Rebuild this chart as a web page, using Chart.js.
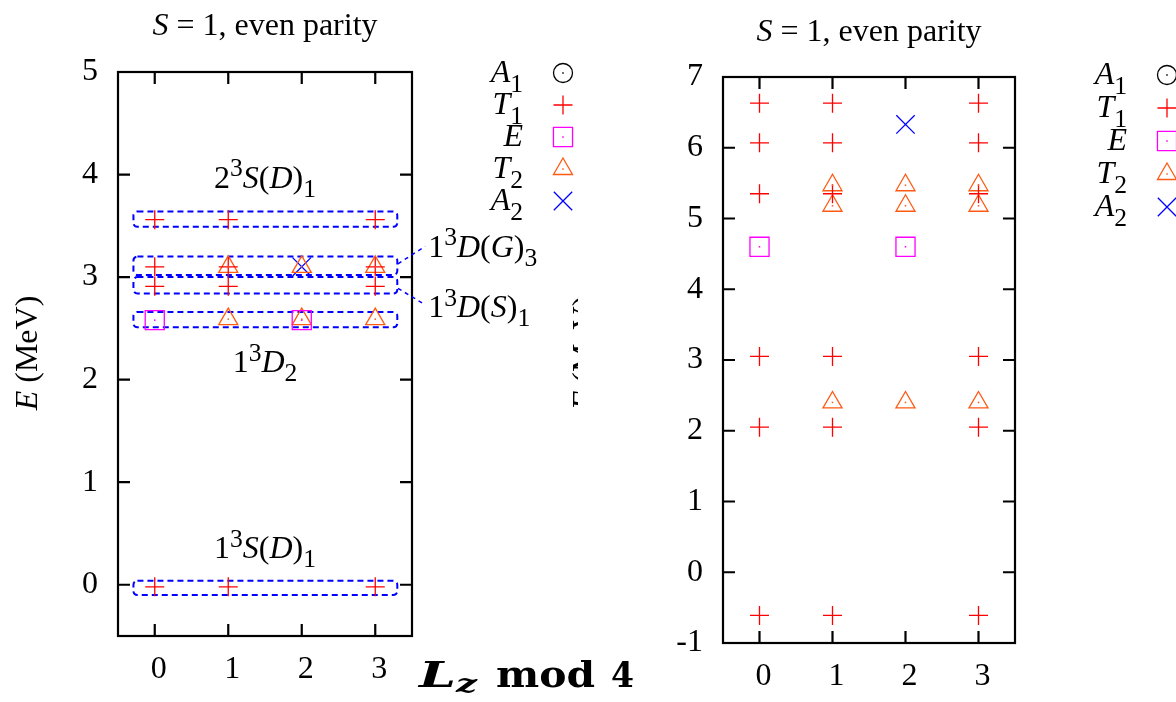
<!DOCTYPE html>
<html>
<head>
<meta charset="utf-8">
<script src="https://cdn.jsdelivr.net/npm/chart.js@4.4.0/dist/chart.umd.min.js"></script>
<style>
  html, body { margin: 0; padding: 0; background: #fff; overflow: hidden; width: 1176px; height: 702px; }
  canvas { position: absolute; top: 0; }
  #leftChart { left: 0; z-index: 2; }
  #rightChart { left: 560px; z-index: 1; }
</style>
</head>
<body>
<canvas id="rightChart" width="640" height="702"></canvas>
<canvas id="leftChart" width="660" height="702"></canvas>
<script>
// x: Lz mod 4, y: energy (MeV)
const lzTicks = [0, 1, 2, 3];
const leftEnergyTicks = [0, 1, 2, 3, 4, 5];
const rightEnergyTicks = [-1, 0, 1, 2, 3, 4, 5, 6, 7];

// left panel levels, [Lz mod 4, E]
const leftA1 = [];
const leftT1 = [[0, -0.02], [1, -0.02], [3, -0.02], [0, 2.91], [1, 2.91], [3, 2.91],
                [0, 3.10], [1, 3.10], [3, 3.10], [0, 3.56], [1, 3.56], [3, 3.56]];
const leftE = [[0, 2.58], [2, 2.58]];
const leftT2 = [[1, 2.59], [2, 2.59], [3, 2.59], [1, 3.10], [2, 3.10], [3, 3.10]];
const leftA2 = [[2, 3.10]];

// right panel levels
const rightA1 = [];
const rightT1 = [[0, -0.61], [1, -0.61], [3, -0.61], [0, 2.05], [1, 2.05], [3, 2.05],
                 [0, 3.05], [1, 3.05], [3, 3.05], [0, 5.35], [1, 5.35], [3, 5.35],
                 [0, 6.07], [1, 6.07], [3, 6.07], [0, 6.63], [1, 6.63], [3, 6.63]];
const rightE = [[0, 4.60], [2, 4.60]];
const rightT2 = [[1, 2.40], [2, 2.40], [3, 2.40], [1, 5.18], [2, 5.18], [3, 5.18],
                 [1, 5.47], [2, 5.47], [3, 5.47]];
const rightA2 = [[2, 6.33]];

const FONT = '"Liberation Serif", "Times New Roman", serif';
const SIZE = 32;

const repStyles = [
  { label: [['A', 'i'], ['1', '_']], pointStyle: 'circle',   radius: 9.5,  color: '#000000', dot: true },
  { label: [['T', 'i'], ['1', '_']], pointStyle: 'cross',    radius: 9.5,  color: '#ff0000', dot: false },
  { label: [['E', 'i']],             pointStyle: 'rect',     radius: 13.5, color: '#ff00ff', dot: true },
  { label: [['T', 'i'], ['2', '_']], pointStyle: 'triangle', radius: 11,   color: '#ff5a14', dot: true },
  { label: [['A', 'i'], ['2', '_']], pointStyle: 'crossRot', radius: 13,   color: '#0000ff', dot: false }
];

// multiplet boxes and their labels on the left panel (data coordinates)
const boxes = [
  [-0.29, 3.30, 3.49, 3.64],
  [-0.29, 3.30, 3.02, 3.20],
  [-0.29, 3.30, 2.84, 3.00],
  [-0.29, 3.30, 2.51, 2.66],
  [-0.29, 3.30, -0.10, 0.04]
];
const connectors = [
  [3.31, 3.13, 3.68, 3.30],
  [3.31, 2.89, 3.68, 2.73]
];
const levelLabels = [
  { x: 1.5, y: 3.87, align: 'center', parts: [['2', 'r'], ['3', '^'], ['S', 'i'], ['(', 'r'], ['D', 'i'], [')', 'r'], ['1', '_']] },
  { x: 1.5, y: 2.07, align: 'center', parts: [['1', 'r'], ['3', '^'], ['D', 'i'], ['2', '_']] },
  { x: 1.5, y: 0.26, align: 'center', parts: [['1', 'r'], ['3', '^'], ['S', 'i'], ['(', 'r'], ['D', 'i'], [')', 'r'], ['1', '_']] },
  { x: 3.72, y: 3.20, align: 'left', parts: [['1', 'r'], ['3', '^'], ['D', 'i'], ['(', 'r'], ['G', 'i'], [')', 'r'], ['3', '_']] },
  { x: 3.72, y: 2.61, align: 'left', parts: [['1', 'r'], ['3', '^'], ['D', 'i'], ['(', 'r'], ['S', 'i'], [')', 'r'], ['1', '_']] }
];

function partFont(kind, size) {
  const s = (kind === '^' || kind === '_') ? size * 0.8 : size;
  return (kind === 'i' ? 'italic ' : '') + s + 'px ' + FONT;
}

// text with italics, superscripts and subscripts, gnuplot style
function drawRich(ctx, parts, x, y, align, size, subDrop) {
  ctx.save();
  ctx.fillStyle = '#000';
  ctx.textBaseline = 'alphabetic';
  ctx.textAlign = 'left';
  let total = 0;
  const widths = parts.map(([t, k]) => {
    ctx.font = partFont(k, size);
    const w = ctx.measureText(t).width;
    total += w;
    return w;
  });
  let cx = align === 'center' ? x - total / 2 : align === 'right' ? x - total : x;
  parts.forEach(([t, k], i) => {
    ctx.font = partFont(k, size);
    const dy = k === '^' ? -0.36 * size : k === '_' ? (subDrop || 0.28) * size : 0;
    ctx.fillText(t, cx, y + dy);
    cx += widths[i];
  });
  ctx.restore();
}

function fitText(ctx, text, x, y, width) {
  const w = ctx.measureText(text).width;
  ctx.save();
  ctx.translate(x, y);
  ctx.scale(width / w, 1);
  ctx.fillText(text, 0, 0);
  ctx.restore();
}

function drawMarker(ctx, st, x, y) {
  ctx.save();
  ctx.strokeStyle = st.color;
  ctx.fillStyle = 'rgba(0,0,0,0)';
  ctx.lineWidth = 1.3;
  Chart.helpers.drawPoint(ctx, { pointStyle: st.pointStyle, radius: st.radius, rotation: 0, borderWidth: 1.3 }, x, y);
  if (st.dot) {
    ctx.fillStyle = st.color;
    ctx.fillRect(x - 0.75, y - 0.75, 1.5, 1.5);
  }
  ctx.restore();
}

function decorPlugin(cfg) {
  return {
    id: 'panelDecor',
    beforeDatasetsDraw(chart) {
      if (!cfg.annotate) return;
      const { ctx, scales: { x, y } } = chart;
      ctx.save();
      ctx.strokeStyle = '#0000ff';
      ctx.lineWidth = 2;
      ctx.setLineDash([6, 4]);
      boxes.forEach(([x0, x1, y0, y1]) => {
        const l = x.getPixelForValue(x0), r = x.getPixelForValue(x1);
        const t = y.getPixelForValue(y1), b = y.getPixelForValue(y0);
        ctx.beginPath();
        ctx.roundRect(l, t, r - l, b - t, 4);
        ctx.stroke();
      });
      ctx.restore();
    },
    afterDatasetsDraw(chart) {
      const { ctx } = chart;
      chart.data.datasets.forEach((ds, i) => {
        if (!ds.centerDot) return;
        ctx.fillStyle = ds.borderColor;
        chart.getDatasetMeta(i).data.forEach(pt => ctx.fillRect(pt.x - 0.75, pt.y - 0.75, 1.5, 1.5));
      });
    },
    afterDraw(chart) {
      const { ctx, chartArea: a, scales: { x, y } } = chart;
      ctx.save();
      // frame and inward ticks on all four sides
      ctx.strokeStyle = '#000';
      ctx.lineWidth = 2.2;
      ctx.strokeRect(a.left, a.top, a.right - a.left, a.bottom - a.top);
      ctx.beginPath();
      lzTicks.forEach(v => {
        const px = x.getPixelForValue(v);
        ctx.moveTo(px, a.bottom); ctx.lineTo(px, a.bottom - 12);
        ctx.moveTo(px, a.top); ctx.lineTo(px, a.top + 12);
      });
      cfg.yTicks.forEach(v => {
        const py = y.getPixelForValue(v);
        ctx.moveTo(a.left, py); ctx.lineTo(a.left + 12, py);
        ctx.moveTo(a.right, py); ctx.lineTo(a.right - 12, py);
      });
      ctx.stroke();
      ctx.restore();

      drawRich(ctx, [['S', 'i'], [' = 1, even parity', 'r']], (a.left + a.right) / 2, cfg.titleY, 'center', SIZE);

      // key
      repStyles.forEach((st, i) => {
        const ly = cfg.legendTop + i * cfg.legendStep;
        drawRich(ctx, st.label, cfg.legendTextX, ly + 8.5, 'right', SIZE, 0.32);
        drawMarker(ctx, st, cfg.legendMarkX, ly);
      });

      if (cfg.annotate) {
        ctx.save();
        ctx.strokeStyle = '#0000ff';
        ctx.lineWidth = 1.5;
        ctx.setLineDash([4, 4]);
        connectors.forEach(([x0, y0, x1, y1]) => {
          ctx.beginPath();
          ctx.moveTo(x.getPixelForValue(x0), y.getPixelForValue(y0));
          ctx.lineTo(x.getPixelForValue(x1), y.getPixelForValue(y1));
          ctx.stroke();
        });
        ctx.restore();
        levelLabels.forEach(lb => drawRich(ctx, lb.parts, x.getPixelForValue(lb.x), y.getPixelForValue(lb.y), lb.align, SIZE));
      }

      // y axis name, rotated
      ctx.save();
      if (cfg.yTitleClip) {
        ctx.beginPath();
        ctx.rect(cfg.yTitleClip[0], 0, cfg.yTitleClip[1] - cfg.yTitleClip[0], chart.height);
        ctx.clip();
      }
      ctx.translate(cfg.yTitleX, 353);
      ctx.rotate(-Math.PI / 2);
      drawRich(ctx, [['E', 'i'], [' (MeV)', 'r']], 0, 0, 'center', SIZE);
      ctx.restore();

      if (cfg.xName) {
        ctx.save();
        ctx.fillStyle = '#000';
        ctx.textBaseline = 'alphabetic';
        ctx.font = 'bold italic 35px "DejaVu Serif"';
        fitText(ctx, 'L', 419, 687, 37);
        ctx.font = 'bold italic 25px "DejaVu Serif"';
        fitText(ctx, 'z', 456, 692, 21);
        ctx.font = 'bold 35px "DejaVu Serif"';
        fitText(ctx, 'mod', 496, 687, 99);
        fitText(ctx, '4', 611, 687, 23);
        ctx.restore();
      }
    }
  };
}

function makeDatasets(series) {
  return series.map((pts, i) => ({
    label: repStyles[i].label.map(p => p[0]).join(''),
    data: pts.map(([lz, e]) => ({ x: lz, y: e })),
    pointStyle: repStyles[i].pointStyle,
    pointRadius: repStyles[i].radius,
    pointBorderWidth: 1.3,
    borderColor: repStyles[i].color,
    backgroundColor: 'rgba(0,0,0,0)',
    centerDot: repStyles[i].dot
  }));
}

function makePanel(id, series, cfg) {
  const tickFont = { family: FONT, size: SIZE };
  return new Chart(document.getElementById(id), {
    type: 'scatter',
    data: { datasets: makeDatasets(series) },
    options: {
      responsive: false,
      animation: false,
      devicePixelRatio: 1,
      events: [],
      layout: { padding: cfg.padding },
      plugins: { legend: { display: false }, tooltip: { enabled: false }, title: { display: false } },
      scales: {
        x: {
          type: 'linear', min: -0.5, max: 3.5,
          grid: { display: false, drawTicks: false },
          border: { display: false },
          ticks: { font: tickFont, color: '#000', padding: 14, labelOffset: 4 },
          afterBuildTicks: s => { s.ticks = lzTicks.map(v => ({ value: v })); },
          afterFit: s => { s.height = cfg.xAxisHeight; }
        },
        y: {
          type: 'linear', min: cfg.yMin, max: cfg.yMax,
          grid: { display: false, drawTicks: false },
          border: { display: false },
          ticks: { font: tickFont, color: '#000', padding: 20 },
          afterBuildTicks: s => { s.ticks = cfg.yTicks.map(v => ({ value: v })); },
          afterFit: s => { s.width = cfg.yAxisWidth; }
        }
      }
    },
    plugins: [decorPlugin(cfg)]
  });
}

makePanel('leftChart', [leftA1, leftT1, leftE, leftT2, leftA2], {
  padding: { top: 72, right: 248, bottom: 0, left: 0 },
  xAxisHeight: 66, yAxisWidth: 118,
  yMin: -0.5, yMax: 5, yTicks: leftEnergyTicks,
  titleY: 35,
  legendTop: 73, legendStep: 32, legendTextX: 523, legendMarkX: 563,
  yTitleX: 37,
  annotate: true, xName: true
});

makePanel('rightChart', [rightA1, rightT1, rightE, rightT2, rightA2], {
  padding: { top: 77, right: 185, bottom: 0, left: 0 },
  xAxisHeight: 59, yAxisWidth: 163,
  yMin: -1, yMax: 7, yTicks: rightEnergyTicks,
  titleY: 41,
  legendTop: 75, legendStep: 33, legendTextX: 567, legendMarkX: 607,
  yTitleX: 34, yTitleClip: [11.5, 18],
  annotate: false, xName: false
});
</script>
</body>
</html>
